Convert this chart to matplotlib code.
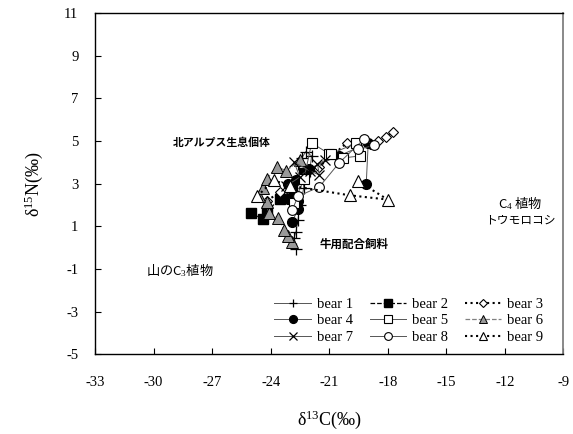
import matplotlib
matplotlib.use("Agg")
import matplotlib.pyplot as plt

plt.rcParams['font.family'] = ['Liberation Serif', 'Noto Sans CJK JP']
plt.rcParams['mathtext.fontset'] = 'custom'
plt.rcParams['mathtext.rm'] = 'Liberation Serif'
plt.rcParams['mathtext.it'] = 'Liberation Serif:italic'

# ---- data ----
bear1_x = [-22.7, -22.8, -22.7, -22.6, -22.5, -22.3, -22.4, -22.6, -22.4, -22.2, -21.9, -22.0]
bear1_y = [-0.05, 0.45, 0.75, 1.3, 2.0, 2.8, 3.4, 3.9, 4.2, 4.5, 4.3, 3.6]

bear2_x = [-25.0, -24.4, -24.2, -23.5, -22.9, -22.3]
bear2_y = [1.6, 1.35, 1.7, 2.3, 2.7, 3.5]

bear3_x = [-24.2, -23.5, -22.7, -21.5, -20.1, -18.9, -18.5, -18.1, -17.75]
bear3_y = [2.2, 2.6, 3.1, 3.8, 4.9, 4.85, 5.0, 5.2, 5.4]

bear4_x = [-22.9, -22.6, -22.6, -23.1, -23.1, -22.7, -22.05, -20.5, -19.0, -19.1]
bear4_y = [1.2, 1.8, 2.2, 2.3, 3.0, 3.15, 3.7, 4.3, 4.9, 3.0]

bear5_x = [-22.8, -22.3, -21.9, -21.0, -20.9, -19.6, -19.4, -20.3]
bear5_y = [2.1, 3.2, 4.9, 4.4, 4.4, 4.9, 4.3, 4.2]

bear6_x = [-22.9, -23.1, -23.3, -23.6, -24.1, -24.2, -24.6, -24.4, -24.2, -23.7, -23.2, -22.5]
bear6_y = [0.25, 0.55, 0.8, 1.4, 1.6, 2.15, 2.4, 2.8, 3.2, 3.8, 3.6, 4.1]

bear7_x = [-23.2, -22.5, -22.8, -22.0, -21.5, -21.6, -21.2]
bear7_y = [2.9, 3.3, 4.0, 3.6, 3.4, 3.9, 4.1]

bear8_x = [-22.9, -22.6, -21.5, -20.5, -19.2, -18.7, -19.5]
bear8_y = [1.75, 2.4, 2.85, 3.96, 5.1, 4.8, 4.6]

bear9_x = [-24.7, -23.85, -23.0, -19.95, -18.0, -19.5]
bear9_y = [2.4, 3.15, 2.9, 2.45, 2.25, 3.1]

x_ticks = [-33, -30, -27, -24, -21, -18, -15, -12, -9]
y_ticks = [-5, -3, -1, 1, 3, 5, 7, 9, 11]

fig = plt.figure(figsize=(5.73, 4.34), dpi=100)
ax = fig.add_axes([0.166, 0.184, 0.817, 0.786])

thin = dict(color='#555555', linewidth=0.7, linestyle='-')
ax.plot(bear1_x, bear1_y, marker='+', markersize=8, markeredgecolor='black',
        markeredgewidth=0.9, label='bear 1', **thin)
ax.plot(bear2_x, bear2_y, marker='s', markersize=6.5, markerfacecolor='black',
        markeredgecolor='black', color='black', linewidth=0.9, linestyle='--', label='bear 2')
ax.plot(bear3_x, bear3_y, marker='D', markersize=5.5, markerfacecolor='white',
        markeredgecolor='black', markeredgewidth=0.8, color='black', linewidth=1.5,
        linestyle=':', label='bear 3')
ax.plot(bear4_x, bear4_y, marker='o', markersize=7, markerfacecolor='black',
        markeredgecolor='black', label='bear 4', **thin)
ax.plot(bear5_x, bear5_y, marker='s', markersize=6.5, markerfacecolor='white',
        markeredgecolor='black', markeredgewidth=0.8, label='bear 5', **thin)
ax.plot(bear6_x, bear6_y, marker='^', markersize=8, markerfacecolor='#999999',
        markeredgecolor='black', markeredgewidth=0.7, color='#808080', linewidth=0.9,
        linestyle='--', label='bear 6')
ax.plot(bear7_x, bear7_y, marker='x', markersize=7, markeredgecolor='black',
        markeredgewidth=0.9, label='bear 7', **thin)
ax.plot(bear8_x, bear8_y, marker='o', markersize=7, markerfacecolor='white',
        markeredgecolor='black', markeredgewidth=0.8, label='bear 8', **thin)
ax.plot(bear9_x, bear9_y, marker='^', markersize=8, markerfacecolor='white',
        markeredgecolor='black', markeredgewidth=0.8, color='black', linewidth=1.5,
        linestyle=':', label='bear 9')

ax.set_xlim(-33, -9)
ax.set_ylim(-5, 11)
ax.set_xticks(x_ticks)
ax.set_yticks(y_ticks)
ax.set_xticklabels([str(v) for v in x_ticks])
ax.set_yticklabels([str(v) for v in y_ticks])
ax.tick_params(direction='in', length=4, width=0.8, labelsize=10.5, pad=16)
ax.tick_params(axis='y', pad=12)
for s in ['left', 'bottom', 'top']:
    ax.spines[s].set_color('black')
    ax.spines[s].set_linewidth(1.0)
ax.spines['right'].set_color('#808080')
ax.spines['right'].set_linewidth(1.3)

ax.set_xlabel('δ$^{13}$C(‰)', fontsize=13, labelpad=14)
ax.set_ylabel('δ$^{15}$N(‰)', fontsize=13, labelpad=14)

jp = ['Noto Sans CJK JP', 'DejaVu Sans']
ax.text(-29.0, 4.9, '北アルプス生息個体', fontsize=7.8, family=jp, fontweight='bold',
        ha='left', va='center')
ax.text(-21.5, 0.15, '牛用配合飼料', fontsize=8.3, family=jp, fontweight='bold',
        ha='left', va='center')
ax.text(-30.4, -1.05, '山のC$_3$植物', fontsize=9.5, family=jp, ha='left', va='center')
ax.text(-11.2, 2.1, 'C$_4$ 植物', fontsize=9.5, family=jp, ha='center', va='center')
ax.text(-11.2, 1.28, 'トウモロコシ', fontsize=8.5, family=jp, ha='center', va='center')

handles, labels = ax.get_legend_handles_labels()
order = [0, 3, 6, 1, 4, 7, 2, 5, 8]
leg = ax.legend([handles[i] for i in order], [labels[i] for i in order],
                ncol=3, loc='lower right', bbox_to_anchor=(0.985, -0.008), frameon=False,
                fontsize=10.5, handlelength=2.5, handletextpad=0.4, columnspacing=1.15,
                labelspacing=0.22, borderaxespad=0.5, markerscale=0.8)

fig.savefig('out.png', dpi=100)
